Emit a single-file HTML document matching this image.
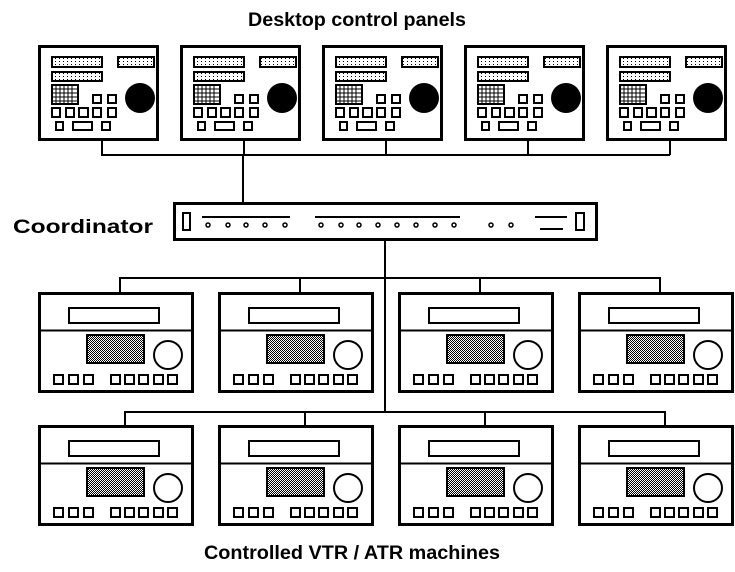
<!DOCTYPE html>
<html><head><meta charset="utf-8"><style>
html,body{margin:0;padding:0;background:#fff;width:735px;height:572px;overflow:hidden}
svg{display:block}
text{font-family:"Liberation Sans",Arial,sans-serif;font-weight:bold;fill:#000}
</style></head><body>
<svg width="735" height="572" viewBox="0 0 735 572" xmlns="http://www.w3.org/2000/svg">
<defs>
<pattern id="dots" width="4" height="3" patternUnits="userSpaceOnUse">
<rect width="4" height="3" fill="#fff"/><rect x="1" y="1" width="1" height="1" fill="#000"/>
</pattern>
<pattern id="chk" width="2" height="2" patternUnits="userSpaceOnUse">
<rect width="2" height="2" fill="#fff"/><rect width="1" height="1" fill="#000"/><rect x="1" y="1" width="1" height="1" fill="#000"/>
</pattern>
<g id="panel" fill="none" stroke="#000">
<rect x="1.5" y="1.5" width="118" height="93" stroke-width="3" fill="#fff"/>
<rect x="14" y="12" width="50" height="10" stroke-width="2" fill="url(#dots)"/>
<rect x="80" y="12" width="36" height="10" stroke-width="2" fill="url(#dots)"/>
<rect x="14" y="27" width="50" height="9" stroke-width="2" fill="url(#dots)"/>
<rect x="14" y="40" width="26" height="19" stroke-width="2"/>
<path d="M18 40V59M22 40V59M26 40V59M30 40V59M34 40V59M14 44H40M14 48H40M14 52H40M14 56H40" stroke-width="1"/>
<circle cx="102" cy="53" r="15" fill="#000" stroke="none"/>
<g stroke-width="2">
<rect x="55" y="50" width="8" height="8"/><rect x="70" y="50" width="8" height="8"/>
<rect x="14" y="63" width="8" height="9"/><rect x="28" y="63" width="8" height="9"/><rect x="41" y="63" width="9" height="9"/><rect x="55" y="63" width="8" height="9"/><rect x="70" y="63" width="8" height="9"/>
<rect x="18" y="77" width="7" height="8"/><rect x="35" y="77" width="19" height="8"/><rect x="64" y="77" width="8" height="8"/>
</g>
</g>
<g id="mach" fill="none" stroke="#000">
<rect x="1.5" y="1.5" width="153" height="98" stroke-width="3" fill="#fff"/>
<path d="M0 38.5H156" stroke-width="2"/>
<rect x="31" y="16" width="90" height="15" stroke-width="2"/>
<rect x="49" y="43" width="57" height="28" stroke-width="2" fill="url(#chk)"/>
<circle cx="130" cy="63" r="14" stroke-width="2"/>
<g stroke-width="2">
<rect x="16" y="83" width="9" height="9"/><rect x="31" y="83" width="9" height="9"/><rect x="46" y="83" width="9" height="9"/>
<rect x="73" y="83" width="9" height="9"/><rect x="87" y="83" width="9" height="9"/><rect x="101" y="83" width="9" height="9"/><rect x="116" y="83" width="9" height="9"/><rect x="130" y="83" width="9" height="9"/>
</g>
</g>
</defs>

<text x="357" y="26" font-size="19" text-anchor="middle" textLength="218" lengthAdjust="spacingAndGlyphs">Desktop control panels</text>
<text x="13" y="233" font-size="19" textLength="140" lengthAdjust="spacingAndGlyphs">Coordinator</text>
<text x="352" y="559" font-size="19" text-anchor="middle" textLength="296" lengthAdjust="spacingAndGlyphs">Controlled VTR / ATR machines</text>

<g stroke="#000" stroke-width="2" fill="none">
<path d="M102 140V155H670M244 155V140M386 155V140M528 155V140M670 155V140M243 155V203"/>
<path d="M385 240V412M120 292V278H660V292M300 278V292M480 278V292"/>
<path d="M125 425V412H665V425M305 412V425M485 412V425"/>
</g>

<use href="#panel" x="38" y="45"/>
<use href="#panel" x="180" y="45"/>
<use href="#panel" x="322" y="45"/>
<use href="#panel" x="464" y="45"/>
<use href="#panel" x="606" y="45"/>

<g fill="none" stroke="#000">
<rect x="174.5" y="203.5" width="422" height="36" stroke-width="3" fill="#fff"/>
<rect x="183" y="213" width="7" height="17" stroke-width="2"/>
<rect x="576" y="213" width="8" height="17" stroke-width="2"/>
<path d="M202 217H290M315 217H460M535 217H567M540 229H563" stroke-width="2"/>
<g stroke-width="1.5">
<circle cx="208" cy="225" r="2"/><circle cx="228" cy="225" r="2"/><circle cx="246" cy="225" r="2"/><circle cx="265" cy="225" r="2"/><circle cx="285" cy="225" r="2"/>
<circle cx="321" cy="225" r="2"/><circle cx="341" cy="225" r="2"/><circle cx="359" cy="225" r="2"/><circle cx="378" cy="225" r="2"/><circle cx="397" cy="225" r="2"/><circle cx="416" cy="225" r="2"/><circle cx="435" cy="225" r="2"/><circle cx="454" cy="225" r="2"/>
<circle cx="491" cy="225" r="2"/><circle cx="511" cy="225" r="2"/>
</g>
</g>

<use href="#mach" x="38" y="292"/>
<use href="#mach" x="218" y="292"/>
<use href="#mach" x="398" y="292"/>
<use href="#mach" x="578" y="292"/>
<use href="#mach" x="38" y="425"/>
<use href="#mach" x="218" y="425"/>
<use href="#mach" x="398" y="425"/>
<use href="#mach" x="578" y="425"/>
</svg>
</body></html>
